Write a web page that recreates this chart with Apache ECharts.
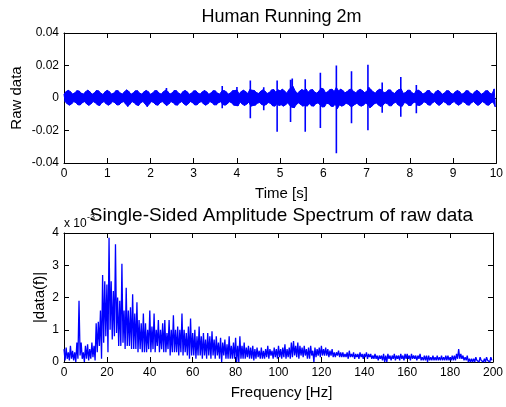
<!DOCTYPE html>
<html>
<head>
<meta charset="utf-8">
<script src="https://cdn.jsdelivr.net/npm/echarts@6/dist/echarts.min.js"></script>
<style>
html,body{margin:0;padding:0;background:#fff;}
#chart{width:506px;height:407px;}
</style>
</head>
<body>
<div id="chart"></div>
<script>
// ---- Top panel: raw signal body envelope per 0.05 s bin (units of 1e-3) ----
const timeBinWidth = 0.05;
const rawUpperMilli = [
 2.3,4.0,4.7,3.9,2.4,3.2,4.5,4.3,3.0,2.4,
 3.9,4.8,3.8,2.3,3.1,4.6,4.4,3.0,2.2,3.8,
 4.7,3.9,2.4,3.0,4.5,4.5,3.1,2.4,3.9,5.0,
 4.0,2.3,3.1,4.4,4.5,3.0,2.4,3.8,4.6,3.9,
 2.3,3.1,4.5,4.5,3.0,2.4,3.9,4.8,4.0,2.4,
 3.1,4.6,4.5,3.0,2.3,3.9,4.6,3.8,2.3,3.0,
 4.4,4.4,3.0,2.4,3.8,4.6,3.8,2.3,3.1,4.5,
 4.4,3.0,2.4,4.2,4.6,3.9,2.4,3.1,4.5,4.6,
 4.8,2.6,4.0,4.8,4.0,2.8,5.2,4.8,4.6,3.4,
 2.8,4.2,5.0,4.2,2.8,3.4,5.0,5.2,3.6,5.0,
 4.4,5.4,4.4,3.0,5.0,6.5,7.0,4.2,3.0,4.2,
 5.2,4.6,5.5,3.6,5.0,5.2,3.6,3.0,4.4,6.0,
 5.6,3.2,3.8,5.2,5.4,4.0,6.5,4.4,5.4,4.6,
 3.2,4.0,5.2,5.5,4.0,3.2,4.6,5.4,4.6,3.4,
 4.0,6.5,5.2,3.8,3.0,4.6,5.4,5.0,3.2,3.6,
 5.0,5.0,3.4,2.8,4.4,5.2,5.5,2.8,3.4,4.8,
 4.8,3.2,2.5,4.6,4.8,4.0,2.4,3.1,4.5,4.6,
 3.0,2.3,3.9,4.7,3.8,2.3,3.1,4.5,4.4,3.0,
 2.3,3.8,4.6,3.9,2.3,3.0,4.5,4.4,3.0,2.3,
 3.8,4.7,3.8,2.3,3.0,4.4,4.5,3.0,2.4,5.6
];
const rawLowerMilli = [
 -2.2,-3.6,-4.4,-3.7,-2.2,-2.9,-4.2,-4.3,-2.9,-2.2,
 -3.7,-4.5,-3.6,-2.2,-2.9,-4.3,-4.6,-2.9,-2.2,-3.6,
 -4.4,-3.7,-2.2,-2.9,-4.3,-4.2,-2.9,-2.2,-3.7,-5.2,
 -3.8,-2.2,-2.9,-4.3,-4.6,-2.9,-2.2,-3.6,-5.3,-3.7,
 -2.2,-2.9,-4.2,-4.4,-2.9,-2.2,-3.6,-4.6,-3.7,-2.2,
 -2.9,-4.2,-4.4,-2.9,-2.2,-3.7,-4.5,-3.6,-2.2,-2.9,
 -4.3,-4.2,-2.9,-2.2,-3.6,-4.4,-3.7,-2.2,-2.9,-4.2,
 -4.2,-2.9,-2.3,-4.0,-4.4,-3.7,-2.3,-2.9,-4.4,-4.6,
 -4.8,-2.5,-3.8,-4.6,-3.8,-2.6,-5.0,-4.6,-4.4,-3.2,
 -2.8,-4.0,-4.6,-4.0,-2.8,-3.3,-4.8,-5.0,-3.5,-4.6,
 -4.2,-5.0,-4.2,-3.0,-4.6,-5.5,-6.0,-4.0,-3.0,-4.0,
 -5.0,-4.4,-5.0,-3.5,-4.8,-5.0,-3.5,-3.0,-4.2,-5.5,
 -5.4,-3.2,-3.6,-5.0,-5.2,-3.8,-6.5,-4.2,-5.0,-4.4,
 -3.2,-3.8,-5.0,-5.0,-4.0,-3.2,-4.4,-5.0,-4.4,-3.2,
 -3.8,-6.0,-5.0,-3.6,-3.0,-4.4,-5.2,-4.5,-3.0,-3.4,
 -4.8,-4.8,-3.2,-2.6,-4.2,-5.0,-5.0,-2.8,-3.2,-4.6,
 -4.6,-3.0,-2.4,-4.4,-4.6,-3.8,-2.3,-2.9,-4.3,-4.4,
 -2.9,-2.2,-3.6,-4.5,-3.7,-2.2,-2.9,-4.2,-4.3,-2.9,
 -2.2,-3.6,-4.4,-3.7,-2.2,-2.9,-4.2,-4.4,-2.9,-2.2,
 -3.6,-4.5,-3.7,-2.2,-2.9,-4.3,-4.4,-3.0,-2.4,-5.5
];
// transient spikes: time (s), top and bottom excursion (units of 1e-3)
const spikeTimes = [2.37, 3.66, 4.00, 4.31, 4.62, 4.93, 5.24, 5.28, 5.58, 5.93, 6.30, 6.65, 7.03, 7.36, 7.79, 8.15];
const spikeHigh  = [6.2, 7.4, 6.8, 10.8, 6.6, 10.8, 11.2, 12.0, 11.5, 15.5, 20.0, 16.5, 20.5, 9.5, 13.0, 8.0];
const spikeLow   = [-3.5, -6.3, -4.8, -12.5, -7.5, -20.7, -14.8, -6.0, -20.7, -18.5, -34.0, -15.6, -19.8, -9.0, -11.5, -9.4];
const timeTicks = [0,1,2,3,4,5,6,7,8,9,10];
const rawTicksMilli = [-40,-20,0,20,40];

// ---- Bottom panel: spectrum, max/min per 1 Hz bin (units of 1e-3) ----
const freqBinWidth = 1;
const specMax = [
 0.4,0.45,0.3,0.5,0.35,0.3,0.6,1.9,0.6,0.3,
 0.5,0.55,0.4,0.6,0.5,1.2,1.25,1.6,2.7,2.5,
 2.4,3.85,2.5,2.2,3.65,2.0,1.9,3.05,1.6,2.3,
 1.6,1.7,2.1,1.5,1.85,1.3,1.2,1.5,1.2,1.0,
 1.6,1.1,1.5,1.0,1.3,1.0,1.2,1.3,0.9,1.3,
 1.0,1.45,1.0,1.1,1.0,1.5,1.0,0.9,1.1,1.35,
 0.9,1.0,0.8,1.1,0.8,0.9,0.7,0.9,0.8,0.95,
 0.7,0.8,0.6,0.75,0.6,0.7,0.55,0.8,0.5,0.6,
 0.75,0.5,0.8,0.5,0.6,0.45,0.5,0.45,0.5,0.4,
 0.45,0.35,0.45,0.35,0.4,0.5,0.4,0.35,0.45,0.4,
 0.5,0.4,0.45,0.55,0.4,0.45,0.6,0.65,0.5,0.6,
 0.5,0.45,0.5,0.4,0.45,0.5,0.35,0.45,0.4,0.45,
 0.5,0.4,0.45,0.4,0.35,0.4,0.3,0.3,0.35,0.3,
 0.3,0.25,0.3,0.35,0.25,0.3,0.25,0.25,0.3,0.25,
 0.25,0.3,0.25,0.25,0.2,0.25,0.2,0.2,0.2,0.25,
 0.2,0.25,0.2,0.2,0.25,0.2,0.2,0.25,0.2,0.25,
 0.25,0.2,0.25,0.2,0.2,0.2,0.25,0.15,0.2,0.2,
 0.2,0.15,0.2,0.15,0.2,0.15,0.2,0.15,0.2,0.2,
 0.15,0.2,0.2,0.25,0.4,0.25,0.2,0.15,0.2,0.1,
 0.1,0.1,0.15,0.1,0.15,0.1,0.1,0.15,0.1,0.15
];
const specMin = [
 0.05,0.1,0.05,0.1,0.05,0.0,0.1,0.2,0.1,0.0,
 0.1,0.05,0.1,0.15,0.05,0.3,0.5,0.1,0.6,0.8,
 0.3,1.0,0.7,0.8,0.9,0.5,0.5,0.6,0.4,0.5,
 0.5,0.4,0.4,0.4,0.3,0.4,0.3,0.3,0.3,0.4,
 0.3,0.4,0.3,0.5,0.3,0.4,0.3,0.3,0.4,0.2,
 0.3,0.3,0.3,0.2,0.3,0.2,0.3,0.2,0.1,0.2,
 0.2,0.1,0.2,0.2,0.1,0.2,0.1,0.2,0.1,0.2,
 0.1,0.2,0.1,0.0,0.2,0.1,0.1,0.1,0.1,0.1,
 0.0,0.0,0.1,0.1,0.1,0.15,0.1,0.1,0.05,0.1,
 0.15,0.1,0.1,0.1,0.15,0.1,0.2,0.1,0.15,0.1,
 0.15,0.1,0.15,0.1,0.15,0.1,0.15,0.2,0.15,0.1,
 0.2,0.15,0.2,0.1,0.1,0.2,0.0,0.15,0.2,0.15,
 0.2,0.2,0.2,0.15,0.2,0.15,0.15,0.2,0.15,0.15,
 0.15,0.15,0.1,0.15,0.15,0.1,0.15,0.1,0.15,0.1,
 0.15,0.1,0.15,0.1,0.1,0.1,0.05,0.1,0.05,0.0,
 0.0,0.1,0.05,0.1,0.05,0.1,0.05,0.1,0.05,0.1,
 0.1,0.05,0.1,0.1,0.05,0.1,0.05,0.05,0.05,0.0,
 0.05,0.05,0.05,0.05,0.05,0.05,0.05,0.05,0.05,0.05,
 0.05,0.05,0.05,0.1,0.1,0.1,0.05,0.05,0.0,0.0,
 0.0,0.0,0.05,0.0,0.05,0.0,0.0,0.05,0.0,0.05
];
const freqTicks = [0,20,40,60,80,100,120,140,160,180,200];
const specTicks = [0,1,2,3,4];

// ---- build polylines from the arrays ----
const topUpper = rawUpperMilli.map((u, i) => [i * timeBinWidth, u]);
const topLower = rawLowerMilli.map((l, i) => [i * timeBinWidth + timeBinWidth / 2, l]);
const topZig = [];
rawUpperMilli.forEach((u, i) => {
  topZig.push([i * timeBinWidth, u]);
  topZig.push([i * timeBinWidth + timeBinWidth / 2, rawLowerMilli[i]]);
});
const spikeLines = [];
spikeTimes.forEach((t, i) => {
  spikeLines.push([t, spikeHigh[i]]);
  spikeLines.push([t, spikeLow[i]]);
  spikeLines.push('-');
});
const bottomLine = [];
specMax.forEach((m, i) => {
  bottomLine.push([i * freqBinWidth, m]);
  bottomLine.push([i * freqBinWidth + freqBinWidth / 2, specMin[i]]);
});

const FONT = 'Liberation Sans, Arial, sans-serif';
const BLUE = '#0000ff';
function xAx(grid, ticks, pos, show) {
  return {
    type: 'value', gridIndex: grid, position: pos,
    min: ticks[0], max: ticks[ticks.length - 1], interval: ticks[1] - ticks[0],
    axisLine: {show: true, onZero: false, lineStyle: {color: '#000', width: 1}},
    axisTick: {show: true, inside: true, length: 5, lineStyle: {color: '#000'}},
    axisLabel: {show: show, margin: 5, color: '#000', fontSize: 12, fontFamily: FONT, showMaxLabel: true, showMinLabel: true},
    splitLine: {show: false}
  };
}
function yAx(grid, ticks, pos, show, fmt) {
  return {
    type: 'value', gridIndex: grid, position: pos,
    min: ticks[0], max: ticks[ticks.length - 1], interval: ticks[1] - ticks[0],
    axisLine: {show: true, onZero: false, lineStyle: {color: '#000', width: 1}},
    axisTick: {show: true, inside: true, length: 5, lineStyle: {color: '#000'}},
    axisLabel: {show: show, margin: 5, color: '#000', fontSize: 12, fontFamily: FONT, formatter: fmt},
    splitLine: {show: false}
  };
}
const areaSeries = (data) => ({
  type: 'line', xAxisIndex: 0, yAxisIndex: 0, data: data, showSymbol: false, symbol: 'none',
  lineStyle: {color: BLUE, width: 1}, areaStyle: {color: BLUE, opacity: 1, origin: 0},
  sampling: null, clip: true, z: 2
});

const chart = echarts.init(document.getElementById('chart'), null, {renderer: 'canvas'});
chart.setOption({
  animation: false,
  backgroundColor: '#fff',
  grid: [
    {left: 64, right: 7, top: 33, height: 130},
    {left: 64, right: 7, top: 233, height: 129}
  ],
  xAxis: [
    xAx(0, timeTicks, 'bottom', true),
    xAx(0, timeTicks, 'top', false),
    xAx(1, freqTicks, 'bottom', true),
    xAx(1, freqTicks, 'top', false)
  ],
  yAxis: [
    yAx(0, rawTicksMilli, 'left', true, v => String(v / 1000)),
    yAx(0, rawTicksMilli, 'right', false),
    yAx(1, specTicks, 'left', true),
    yAx(1, specTicks, 'right', false)
  ],
  series: [
    areaSeries(topUpper),
    areaSeries(topLower),
    {type: 'line', xAxisIndex: 0, yAxisIndex: 0, data: topZig, showSymbol: false, symbol: 'none',
     lineStyle: {color: BLUE, width: 1}, sampling: null, clip: true, z: 3},
    {type: 'line', xAxisIndex: 0, yAxisIndex: 0, data: spikeLines, showSymbol: false, symbol: 'none',
     connectNulls: false, lineStyle: {color: BLUE, width: 1.6}, sampling: null, clip: true, z: 4},
    {type: 'line', xAxisIndex: 2, yAxisIndex: 2, data: bottomLine, showSymbol: false, symbol: 'none',
     lineStyle: {color: BLUE, width: 1.3}, sampling: null, clip: true}
  ],
  graphic: [
    {type: 'text', left: 64, top: 218, style: {text: 'x 10', fill: '#000', font: '12px ' + FONT}},
    {type: 'text', left: 87, top: 213, style: {text: '-3', fill: '#000', font: '9px ' + FONT}},
    {type: 'text', x: 281.5, y: 17, style: {text: 'Human Running 2m', fill: '#000', font: '18px ' + FONT, textAlign: 'center', textVerticalAlign: 'middle'}},
    {type: 'text', x: 281.5, y: 216, style: {text: 'Single-Sided Amplitude Spectrum of raw data', fill: '#000', font: '19px ' + FONT, textAlign: 'center', textVerticalAlign: 'middle'}},
    {type: 'text', x: 281.5, y: 194, style: {text: 'Time [s]', fill: '#000', font: '15px ' + FONT, textAlign: 'center', textVerticalAlign: 'middle'}},
    {type: 'text', x: 281.5, y: 393, style: {text: 'Frequency [Hz]', fill: '#000', font: '15px ' + FONT, textAlign: 'center', textVerticalAlign: 'middle'}},
    {type: 'text', x: 17, y: 98, rotation: Math.PI / 2, style: {text: 'Raw data', fill: '#000', font: '15px ' + FONT, textAlign: 'center', textVerticalAlign: 'middle'}},
    {type: 'text', x: 40, y: 297.5, rotation: Math.PI / 2, style: {text: '|data(f)|', fill: '#000', font: '15px ' + FONT, textAlign: 'center', textVerticalAlign: 'middle'}}
  ]
});
</script>
</body>
</html>
